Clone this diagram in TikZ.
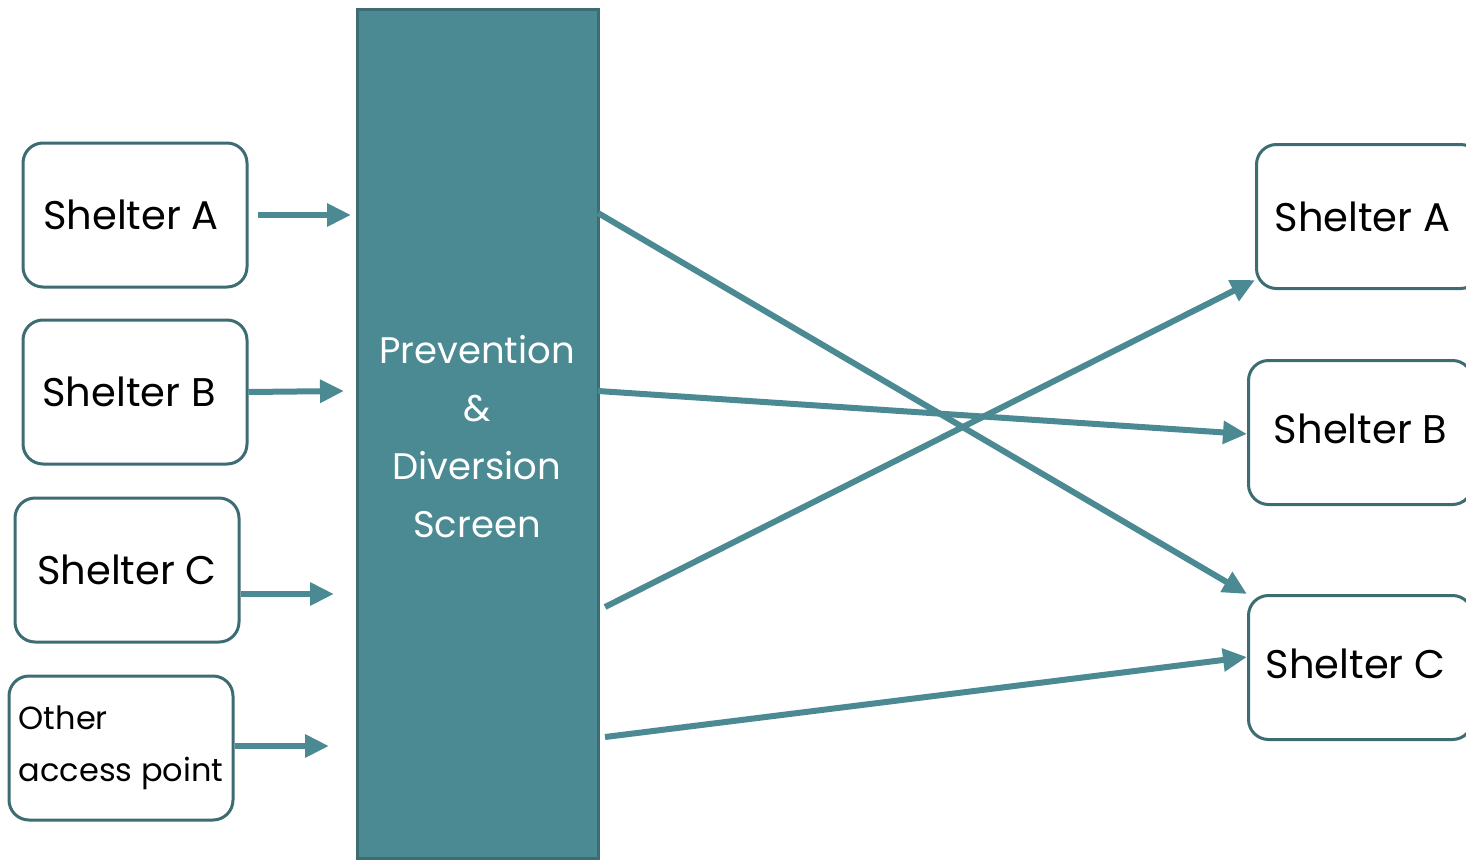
\documentclass[tikz,border=0pt]{standalone}
\usepackage{fontspec}
\setmainfont{Poppins}
\usetikzlibrary{positioning, arrows.meta}

\definecolor{tealfill}{HTML}{4B8A93}
\definecolor{tealdark}{HTML}{3D6C72}

\begin{document}
\begin{tikzpicture}
    [x=0.5pt, y=-0.5pt,
     every node/.style={font=\fontsize{20}{29}\selectfont},
     shelter/.style={draw=tealdark, line width=1.5pt, rounded corners=10pt,
                     minimum width=112pt, minimum height=72pt, align=center},
     arr/.style={draw=tealfill, line width=3pt,
                 -{Triangle[length=12pt, width=11pt]}},
    ]
    \useasboundingbox (0,0) rectangle (1466,862);

    \node (screen) [fill=tealfill, draw=tealdark, line width=1.5pt,
                    minimum width=120.5pt, minimum height=424.5pt]
        at (477.5,433.5) {};
    \node (screenlabel) [text=white, align=center,
                         font=\fontsize{18.5}{29}\selectfont] at (477,437)
        {Prevention\\\&\\Diversion\\Screen};

    % entry points
    \node (inA) [shelter] at (135,215) {Shelter A\hspace*{4pt}};
    \node (inB) [shelter] at (135,392) {Shelter B\hspace*{6pt}};
    \node (inC) [shelter] at (127,570) {Shelter C};
    \node (inOther) [shelter, align=left,
                     font=\fontsize{16}{26}\selectfont] at (121,748)
        {\raisebox{-2pt}{Other}\\\raisebox{-2pt}{access point}};

    % shelters after the screen
    \node (outA) [shelter, anchor=north west] at (1255,143) {Shelter A\hspace*{6pt}};
    \node (outB) [shelter, anchor=north west] at (1247,359)
        {\raisebox{4pt}{\hspace*{6pt}Shelter B\hspace*{6pt}}};
    \node (outC) [shelter, anchor=north west] at (1247,594)
        {\raisebox{4pt}{Shelter C\hspace*{5pt}}};

    \coordinate (toA) at (351,215);
    \coordinate (toB) at (344,391);
    \coordinate (toC) at (334,594);
    \coordinate (toOther) at (329,746);

    \coordinate (fromA) at (598,213);
    \coordinate (fromB) at (598,391);
    \coordinate (fromC) at (605,607);
    \coordinate (fromOther) at (605,737);

    \draw [arr] (inA.east) ++(9,0) -- (toA);
    \draw [arr] (inB.east) -- (toB);
    \draw [arr] (inC.east |- toC) -- (toC);
    \draw [arr] (inOther.east |- toOther) -- (toOther);

    \draw [arr] (fromA) -- (outC.north west);
    \draw [arr] (fromB) -- (outB.west |- 0,434);
    \draw [arr] (fromC) -- (outA.west |- 0,280);
    \draw [arr] (fromOther) -- (outC.west |- 0,657);

\end{tikzpicture}
\end{document}
